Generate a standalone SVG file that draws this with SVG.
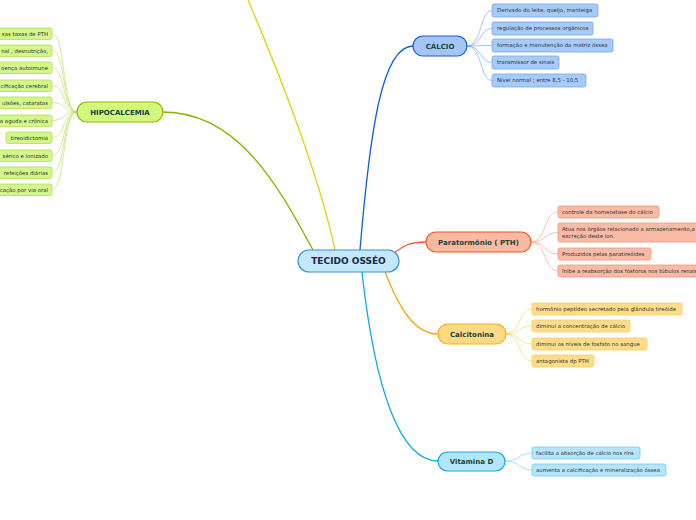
<svg xmlns="http://www.w3.org/2000/svg" width="696" height="520" viewBox="0 0 696 520">
<style>
text{font-family:"DejaVu Sans","Verdana",sans-serif}
.c{font-size:5.4px;fill:#333}
.m{font-size:7px;font-weight:bold;fill:#17433c;text-anchor:middle}
.root{font-size:9px;font-weight:bold;fill:#1a2748;text-anchor:middle}
.lnk{fill:none;stroke-width:1.3}
.sub{fill:none;stroke-width:0.7}
.cb{stroke-width:0.8}
.bl{fill:#a6cbf9;stroke:#78a6ee}
.rd{fill:#f9bba5;stroke:#f3957a}
.yl{fill:#fedd8a;stroke:#f9cb64}
.cy{fill:#b5e5fb;stroke:#74c9f1}
.gr{fill:#d3f78a;stroke:#b0e058}
</style>
<g id="connectors">
<path class="lnk" stroke="#e8d010" d="M335,250 C320,180 282,80 248,0 C240,-20 232,-35 225,-45"/>
<path class="lnk" stroke="#8ab400" d="M313,250 C280,190 240,112 163,112"/>
<path class="lnk" stroke="#1060d8" d="M360,250 C370,130 382,46 413,46"/>
<path class="lnk" stroke="#f05a28" d="M394,253 C405,245 410,242 426,242"/>
<path class="lnk" stroke="#f5a800" d="M385,272 C400,310 415,334 438,334"/>
<path class="lnk" stroke="#10a8e8" d="M362,272 C375,390 400,461 438,461"/>
<g stroke="#7aaaf0">
<path class="sub" d="M467,46 C482,46 480,10.5 492,10.5"/>
<path class="sub" d="M467,46 C482,46 480,28.5 492,28.5"/>
<path class="sub" d="M467,46 C482,46 480,45.5 492,45.5"/>
<path class="sub" d="M467,46 C482,46 480,62.5 492,62.5"/>
<path class="sub" d="M467,46 C482,46 480,80.5 492,80.5"/>
</g>
<g stroke="#f8a890">
<path class="sub" d="M531,242 C546,242 544,212 558,212"/>
<path class="sub" d="M531,242 C546,242 544,232.5 558,232.5"/>
<path class="sub" d="M531,242 C546,242 544,254 558,254"/>
<path class="sub" d="M531,242 C546,242 544,271 558,271"/>
</g>
<g stroke="#ffd070">
<path class="sub" d="M506,334 C521,334 518,309 532,309"/>
<path class="sub" d="M506,334 C521,334 518,326 532,326"/>
<path class="sub" d="M506,334 C521,334 518,344 532,344"/>
<path class="sub" d="M506,334 C521,334 518,361 532,361"/>
</g>
<g stroke="#80d0f8">
<path class="sub" d="M505,461 C520,461 518,453 532,453"/>
<path class="sub" d="M505,461 C520,461 518,470 532,470"/>
</g>
<g stroke="#c0e070">
<path class="sub" d="M77,112 C62,112 66,33.5 52,33.5"/>
<path class="sub" d="M77,112 C62,112 66,50.5 52,50.5"/>
<path class="sub" d="M77,112 C62,112 66,67.5 52,67.5"/>
<path class="sub" d="M77,112 C62,112 66,85.5 52,85.5"/>
<path class="sub" d="M77,112 C62,112 66,102.5 52,102.5"/>
<path class="sub" d="M77,112 C62,112 66,120.5 52,120.5"/>
<path class="sub" d="M77,112 C62,112 66,137.5 52,137.5"/>
<path class="sub" d="M77,112 C62,112 66,155.5 52,155.5"/>
<path class="sub" d="M77,112 C62,112 66,172.5 52,172.5"/>
<path class="sub" d="M77,112 C62,112 66,189.5 52,189.5"/>
</g>
</g>
<g id="root">
<rect x="298" y="250" width="101" height="22" rx="11" fill="#c4e8fb" stroke="#3d8fcf" stroke-width="1.2"/>
<text class="root" x="348.5" y="264.2">TECIDO OSSÉO</text>
</g>
<g id="calcio">
<rect x="413" y="36" width="54" height="20" rx="10" fill="#a3c6f9" stroke="#1a5cd0" stroke-width="1.2"/>
<text class="m" x="440" y="48.5">CÁLCIO</text>
</g>
<g id="calcio-children">
<g id="c1"><rect class="bl cb" x="492" y="4" width="106" height="13" rx="2"/><text class="c" x="497" y="12.4">Derivado do leite, queijo, manteiga</text></g>
<g id="c2"><rect class="bl cb" x="492" y="22" width="101" height="13" rx="2"/><text class="c" x="497" y="30.4">regulação de processos orgânicos</text></g>
<g id="c3"><rect class="bl cb" x="492" y="39" width="121" height="13" rx="2"/><text class="c" x="497" y="47.4">formação e manutenção da matriz óssea</text></g>
<g id="c4"><rect class="bl cb" x="492" y="56" width="67" height="13" rx="2"/><text class="c" x="497" y="64.4">transmissor de sinais</text></g>
<g id="c5"><rect class="bl cb" x="492" y="74" width="94" height="13" rx="2"/><text class="c" x="497" y="82.4">Nível normal ; entre 8,5 - 10,5</text></g>
</g>
<g id="pth">
<rect x="426" y="232" width="105" height="20" rx="10" fill="#f9b9a2" stroke="#ee5a24" stroke-width="1.2"/>
<text class="m" x="478.5" y="244.5">Paratormônio ( PTH)</text>
</g>
<g id="pth-children">
<g id="p1"><rect class="rd cb" x="558" y="206" width="101" height="12" rx="2"/><text class="c" x="562" y="213.9">controle da homeostase do cálcio</text></g>
<g id="p2"><rect class="rd cb" x="558" y="223" width="150" height="19" rx="2"/><text class="c" x="562" y="231">Atua nos órgãos relacionado a armazenamento,a</text><text class="c" x="562" y="237.6">excreção deste íon.</text></g>
<g id="p3"><rect class="rd cb" x="558" y="248" width="93" height="12" rx="2"/><text class="c" x="562" y="255.9">Produzidos pelas paratireóides</text></g>
<g id="p4"><rect class="rd cb" x="558" y="265" width="150" height="12" rx="2"/><text class="c" x="562" y="272.9">Inibe a reabsorção dos fósforos nos túbulos renais</text></g>
</g>
<g id="calcitonina">
<rect x="438" y="324" width="68" height="20" rx="10" fill="#fdd985" stroke="#f5b214" stroke-width="1.2"/>
<text class="m" x="472" y="336.5">Calcitonina</text>
</g>
<g id="calcitonina-children">
<g id="k1"><rect class="yl cb" x="532" y="303" width="150" height="12" rx="2"/><text class="c" x="536" y="310.9">hormônio peptídeo secretado pela glândula tireóide</text></g>
<g id="k2"><rect class="yl cb" x="532" y="320" width="98" height="12" rx="2"/><text class="c" x="536" y="327.9">diminui a concentração de cálcio</text></g>
<g id="k3"><rect class="yl cb" x="532" y="338" width="115" height="12" rx="2"/><text class="c" x="536" y="345.9">diminui os níveis de fosfato no sangue</text></g>
<g id="k4"><rect class="yl cb" x="532" y="355" width="62" height="12" rx="2"/><text class="c" x="536" y="362.9">antagonista dp PTH</text></g>
</g>
<g id="vitamina-d">
<rect x="438" y="452" width="67" height="19" rx="9.5" fill="#b4e6fb" stroke="#1aa6e6" stroke-width="1.2"/>
<text class="m" x="471.5" y="464">Vitamina D</text>
</g>
<g id="vitamina-children">
<g id="v1"><rect class="cy cb" x="532" y="447" width="108" height="12" rx="2"/><text class="c" x="536" y="454.9">facilita a absorção de cálcio nos rins</text></g>
<g id="v2"><rect class="cy cb" x="532" y="464" width="134" height="12" rx="2"/><text class="c" x="536" y="471.9">aumenta a calcificação e mineralização óssea</text></g>
</g>
<g id="hipocalcemia">
<rect x="77" y="102" width="86" height="20" rx="10" fill="#d2f87e" stroke="#8ab800" stroke-width="1.2"/>
<text class="m" x="120" y="114.5">HIPOCALCEMIA</text>
</g>
<g id="hipocalcemia-children" style="text-anchor:end">
<g id="h1"><rect class="gr cb" x="-60" y="28" width="112" height="11.5" rx="2"/><text class="c" x="48" y="35.6">xas taxas de PTH</text></g>
<g id="h2"><rect class="gr cb" x="-60" y="45" width="112" height="11.5" rx="2"/><text class="c" x="48" y="52.6">nal , desnutrição,</text></g>
<g id="h3"><rect class="gr cb" x="-60" y="62" width="112" height="11.5" rx="2"/><text class="c" x="48" y="69.6">oença autoimune</text></g>
<g id="h4"><rect class="gr cb" x="-60" y="80" width="112" height="11.5" rx="2"/><text class="c" x="48" y="87.6">cificação cerebral</text></g>
<g id="h5"><rect class="gr cb" x="-60" y="97" width="112" height="11.5" rx="2"/><text class="c" x="48" y="104.6">ulsões, cataratas</text></g>
<g id="h6"><rect class="gr cb" x="-60" y="115" width="112" height="11.5" rx="2"/><text class="c" x="48" y="122.6">a aguda e crônica</text></g>
<g id="h7"><rect class="gr cb" x="6" y="132" width="46" height="11.5" rx="2"/><text class="c" x="48" y="139.6">tireoidictomia</text></g>
<g id="h8"><rect class="gr cb" x="-60" y="150" width="112" height="11.5" rx="2"/><text class="c" x="48" y="157.6">sérico e ionizado</text></g>
<g id="h9"><rect class="gr cb" x="-60" y="167" width="112" height="11.5" rx="2"/><text class="c" x="48" y="174.6">refeições diárias</text></g>
<g id="h10"><rect class="gr cb" x="-60" y="184" width="112" height="11.5" rx="2"/><text class="c" x="48" y="191.6">cação por via oral</text></g>
</g>
</svg>
